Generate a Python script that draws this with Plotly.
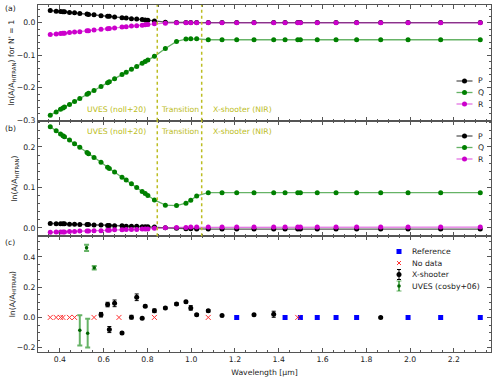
import plotly.graph_objects as go
from plotly.subplots import make_subplots

# band wavelengths (um) used in panels (a) and (b)
WAVE = [0.356, 0.383, 0.403, 0.414, 0.421, 0.444, 0.467, 0.491, 0.524, 0.531,
        0.556, 0.588, 0.618, 0.626, 0.650, 0.684, 0.703, 0.727, 0.751, 0.776,
        0.790, 0.802, 0.832,
        0.882, 0.933, 0.976, 0.998, 1.025,
        1.078, 1.141, 1.208, 1.287, 1.377, 1.429, 1.487, 1.499, 1.576, 1.662,
        1.756, 1.866, 1.991, 2.140, 2.321]

# panel (a): N' = 1
A_P = [0.037, 0.035, 0.034, 0.033, 0.033, 0.031, 0.030, 0.028, 0.026, 0.025,
       0.024, 0.021, 0.019, 0.019, 0.017, 0.015, 0.014, 0.012, 0.011, 0.009,
       0.008, 0.007, 0.005,
       0.001, 0.000, 0.000, 0.000, 0.000,
       0.000, 0.000, 0.000, 0.000, 0.000, 0.000, 0.000, 0.000, 0.000, 0.000,
       0.000, 0.000, 0.000, 0.000, 0.000]
A_Q = [-0.285, -0.275, -0.267, -0.263, -0.260, -0.252, -0.243, -0.234, -0.221, -0.218,
       -0.209, -0.197, -0.185, -0.182, -0.173, -0.160, -0.153, -0.144, -0.135, -0.125,
       -0.120, -0.115, -0.104,
       -0.080, -0.058, -0.051, -0.050, -0.050,
       -0.053, -0.053, -0.053, -0.053, -0.053, -0.053, -0.053, -0.053, -0.053, -0.053,
       -0.053, -0.053, -0.053, -0.053, -0.053]
A_R = [-0.037, -0.035, -0.034, -0.033, -0.033, -0.031, -0.029, -0.028, -0.025, -0.025,
       -0.023, -0.021, -0.019, -0.018, -0.017, -0.014, -0.013, -0.011, -0.010, -0.008,
       -0.007, -0.006, -0.004,
       -0.002, -0.001, -0.001, -0.001, -0.001,
       -0.001, -0.001, -0.001, -0.001, -0.001, -0.001, -0.001, -0.001, -0.001, -0.001,
       -0.001, -0.001, -0.001, -0.001, -0.001]

# panel (b)
B_P = [0.011, 0.010, 0.010, 0.010, 0.010, 0.009, 0.009, 0.008, 0.008, 0.008,
       0.007, 0.007, 0.006, 0.006, 0.005, 0.005, 0.004, 0.004, 0.004, 0.003,
       0.003, 0.003, 0.002,
       0.000, -0.001, -0.002, -0.002, -0.003,
       -0.003, -0.003, -0.003, -0.003, -0.003, -0.003, -0.003, -0.003, -0.003, -0.003,
       -0.003, -0.003, -0.003, -0.003, -0.003]
B_Q = [0.250, 0.240, 0.232, 0.228, 0.225, 0.217, 0.208, 0.199, 0.186, 0.183,
       0.174, 0.162, 0.150, 0.147, 0.138, 0.125, 0.118, 0.109, 0.100, 0.090,
       0.085, 0.080, 0.069,
       0.056, 0.055, 0.061, 0.068, 0.079,
       0.087, 0.087, 0.087, 0.087, 0.087, 0.087, 0.087, 0.087, 0.087, 0.087,
       0.087, 0.087, 0.087, 0.087, 0.087]
B_R = [-0.011, -0.010, -0.010, -0.010, -0.010, -0.009, -0.009, -0.008, -0.008, -0.008,
       -0.007, -0.007, -0.006, -0.006, -0.005, -0.005, -0.004, -0.004, -0.004, -0.003,
       -0.003, -0.003, -0.001,
       0.000, 0.001, 0.001, 0.002, 0.002,
       0.002, 0.002, 0.002, 0.002, 0.002, 0.002, 0.002, 0.002, 0.002, 0.002,
       0.002, 0.002, 0.002, 0.002, 0.002]

# panel (c)
REF_WAVE = [1.208, 1.429, 1.499, 1.576, 1.662, 1.756, 1.991, 2.140, 2.321]
REF_VAL = [0.0] * len(REF_WAVE)
NODATA_WAVE = [0.356, 0.383, 0.403, 0.414, 0.444, 0.467, 0.556, 0.670, 0.832, 1.078, 1.487]
NODATA_VAL = [0.0] * len(NODATA_WAVE)
XS_WAVE = [0.588, 0.618, 0.626, 0.650, 0.684, 0.727, 0.751, 0.776, 0.790, 0.832,
           0.882, 0.933, 0.976, 0.998, 1.025, 1.078, 1.141, 1.287, 1.377, 1.866]
XS_VAL = [0.018, 0.085, -0.080, 0.093, -0.102, 0.002, 0.133, -0.005, 0.074, 0.044,
          0.063, 0.089, 0.104, 0.063, 0.018, 0.044, 0.013, 0.018, 0.021, 0.000]
XS_ERR = [0.015, 0.015, 0.020, 0.022, 0.006, 0.012, 0.022, 0.006, 0.008, 0.012,
          0.006, 0.008, 0.008, 0.015, 0.006, 0.008, 0.006, 0.005, 0.020, 0.005]
UV_WAVE = [0.491, 0.522, 0.527, 0.557]
UV_VAL = [-0.085, 0.459, -0.104, 0.328]
UV_ERR = [0.100, 0.020, 0.095, 0.012]

BOUNDARIES = [0.845, 1.048]
REGIONS = ["UVES (noll+20)", "Transition", "X-shooter (NIR)"]
REGION_X = [0.66, 0.949, 1.09]
REGION_ANCHOR = ["center", "center", "left"]

OLIVE = '#bcbd22'
FONT = "DejaVu Sans"
FS = 7.7
W, H = 500, 379
ML, MR, MT, MB = 38, 9, 5, 27

BLACK = '#000000'
GREEN = '#008000'
MAGENTA = '#cc00cc'
BRANCHES = [('P', BLACK, 'rgba(60,60,60,0.85)'),
            ('Q', GREEN, 'rgba(0,128,0,0.6)'),
            ('R', MAGENTA, 'rgba(204,0,204,0.55)')]


def px(x, y):
    """pixel position in the page -> paper coords"""
    return (x - ML) / (W - ML - MR), (H - MB - y) / (H - MT - MB)


fig = make_subplots(rows=3, cols=1, shared_xaxes=True, vertical_spacing=0)

for row, series in [(1, [A_P, A_Q, A_R]), (2, [B_P, B_Q, B_R])]:
    for (name, mcol, lcol), vals in zip(BRANCHES, series):
        fig.add_trace(go.Scatter(
            x=WAVE, y=vals, mode='lines+markers', name=name,
            line=dict(color=lcol, width=1.3),
            marker=dict(color=mcol, size=5),
        ), row=row, col=1)

fig.add_trace(go.Scatter(
    x=REF_WAVE, y=REF_VAL, mode='markers', name='Reference',
    marker=dict(symbol='square', color='#0000ff', size=5)
), row=3, col=1)
fig.add_trace(go.Scatter(
    x=NODATA_WAVE, y=NODATA_VAL, mode='markers', name='No data',
    marker=dict(symbol='x-thin', size=5, line=dict(color='#ff3333', width=1)),
), row=3, col=1)
fig.add_trace(go.Scatter(
    x=XS_WAVE, y=XS_VAL, mode='markers', name='X-shooter',
    marker=dict(color=BLACK, size=5),
    error_y=dict(type='data', array=XS_ERR, color=BLACK, thickness=1, width=2),
), row=3, col=1)
fig.add_trace(go.Scatter(
    x=UV_WAVE, y=UV_VAL, mode='markers', name='UVES (cosby+06)',
    marker=dict(color='#006400', size=3.5),
    error_y=dict(type='data', array=UV_ERR, color='rgba(0,128,0,0.6)', thickness=2, width=2.5),
), row=3, col=1)

# region boundaries and labels in panels (a) and (b)
for xref, yref, ypos in [('x', 'y domain', 0.096), ('x2', 'y2 domain', 0.904)]:
    for b in BOUNDARIES:
        fig.add_shape(type='line', xref=xref, yref=yref, x0=b, x1=b, y0=0, y1=1,
                      line=dict(color=OLIVE, width=1.5, dash='dot'))
    for txt, xp, anc in zip(REGIONS, REGION_X, REGION_ANCHOR):
        fig.add_annotation(text=txt, xref=xref, yref=yref, x=xp, y=ypos,
                           xanchor=anc, yanchor='middle', showarrow=False,
                           font=dict(color=OLIVE, size=FS, family=FONT))

for lab, ypx in [('(a)', 9), ('(b)', 128), ('(c)', 242)]:
    x0, y0 = px(3, ypx)
    fig.add_annotation(text=lab, xref='paper', yref='paper', x=x0, y=y0,
                       xanchor='left', yanchor='middle', showarrow=False,
                       font=dict(size=FS, color='#222', family=FONT))


# hand-drawn legends (matplotlib-like compact spacing)
def pix_shape(kind, cx, cy, x0, x1, y0, y1, **kw):
    ax, ay = px(cx, cy)
    fig.add_shape(type=kind, xref='paper', yref='paper', xsizemode='pixel',
                  ysizemode='pixel', xanchor=ax, yanchor=ay,
                  x0=x0, x1=x1, y0=y0, y1=y1, **kw)


def legend_text(txt, x, y):
    ax, ay = px(x, y)
    fig.add_annotation(text=txt, xref='paper', yref='paper', x=ax, y=ay,
                       xanchor='left', yanchor='middle', showarrow=False,
                       font=dict(size=FS, color='#222', family=FONT))


for rows_y in ([81, 92.5, 104], [136, 147.5, 159]):
    for (name, mcol, lcol), yy in zip(BRANCHES, rows_y):
        pix_shape('line', 464.5, yy, -8, 8, 0, 0, line=dict(color=lcol, width=1.3))
        pix_shape('circle', 464.5, yy, -2.5, 2.5, -2.5, 2.5,
                  fillcolor=mcol, line=dict(color=mcol, width=0))
        legend_text(name, 476, yy)

LEG_C = ['Reference', 'No data', 'X-shooter', 'UVES (cosby+06)']
LEG_CY = [251.5, 263, 274.5, 286]
pix_shape('rect', 399, LEG_CY[0], -2.5, 2.5, -2.5, 2.5,
          fillcolor='#0000ff', line=dict(width=0))
pix_shape('line', 399, LEG_CY[1], -2, 2, -2, 2, line=dict(color='#ff3333', width=1))
pix_shape('line', 399, LEG_CY[1], -2, 2, 2, -2, line=dict(color='#ff3333', width=1))
pix_shape('line', 399, LEG_CY[2], 0, 0, -5, 5, line=dict(color=BLACK, width=1))
pix_shape('line', 399, LEG_CY[2], -2, 2, 5, 5, line=dict(color=BLACK, width=1))
pix_shape('line', 399, LEG_CY[2], -2, 2, -5, -5, line=dict(color=BLACK, width=1))
pix_shape('circle', 399, LEG_CY[2], -2.5, 2.5, -2.5, 2.5,
          fillcolor=BLACK, line=dict(width=0))
pix_shape('line', 399, LEG_CY[3], 0, 0, -5, 5, line=dict(color='rgba(0,128,0,0.6)', width=2))
pix_shape('line', 399, LEG_CY[3], -2.5, 2.5, 5, 5, line=dict(color='rgba(0,128,0,0.6)', width=1))
pix_shape('line', 399, LEG_CY[3], -2.5, 2.5, -5, -5, line=dict(color='rgba(0,128,0,0.6)', width=1))
pix_shape('circle', 399, LEG_CY[3], -1.8, 1.8, -1.8, 1.8,
          fillcolor='#006400', line=dict(width=0))
for txt, yy in zip(LEG_C, LEG_CY):
    legend_text(txt, 410, yy)

axis_common = dict(showline=True, linecolor='#555', linewidth=1, mirror='allticks',
                   ticks='inside', ticklen=4, tickcolor='#555', showgrid=False,
                   zeroline=False, automargin=False, tickfont=dict(size=FS, color='#222'))

fig.update_xaxes(range=[0.30, 2.37], dtick=0.2, tick0=0.0, tickformat='.1f',
                 minor=dict(dtick=0.05, ticks='inside', ticklen=2, tickcolor='#555'),
                 **axis_common)
fig.update_xaxes(title=dict(text='Wavelength [µm]', standoff=6, font=dict(size=FS)),
                 row=3, col=1)

fig.update_yaxes(**axis_common)
fig.update_yaxes(range=[-0.302, 0.054], dtick=0.1, tickformat='.1f',
                 minor=dict(dtick=0.02, ticks='inside', ticklen=2, tickcolor='#555'),
                 title=dict(text="ln(A/A<sub>HITRAN</sub>) for N' = 1", standoff=0,
                            font=dict(size=FS)),
                 row=1, col=1)
fig.update_yaxes(range=[-0.021, 0.265], dtick=0.1, tickformat='.1f',
                 minor=dict(dtick=0.02, ticks='inside', ticklen=2, tickcolor='#555'),
                 title=dict(text="ln(A/A<sub>HITRAN</sub>)", standoff=4, font=dict(size=FS)),
                 row=2, col=1)
fig.update_yaxes(range=[-0.228, 0.535], dtick=0.2, tickformat='.1f',
                 minor=dict(dtick=0.05, ticks='inside', ticklen=2, tickcolor='#555'),
                 title=dict(text="ln(A/A<sub>HITRAN</sub>)", standoff=0, font=dict(size=FS)),
                 row=3, col=1)

fig.update_layout(
    width=W, height=H,
    margin=dict(l=ML, r=MR, t=MT, b=MB, autoexpand=False),
    paper_bgcolor='white', plot_bgcolor='white',
    font=dict(family=FONT, size=FS, color='#222'),
    showlegend=False,
)

# drop the browser's default body margin so the figure sits at the page origin
fig.write_html("out.html", config={'displayModeBar': False},
               post_script="document.body.style.margin='0px';")
